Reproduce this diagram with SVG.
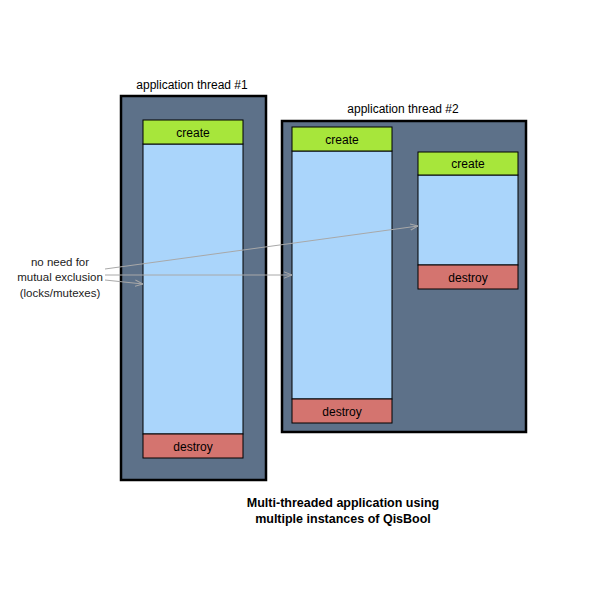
<svg xmlns="http://www.w3.org/2000/svg" width="600" height="600" viewBox="0 0 600 600">
<defs>
<style>
.thread{fill:#5d7189;stroke:#000;stroke-width:2.5}
.body{fill:#aad5fb;stroke:#000;stroke-width:1}
.create{fill:#a7e63b;stroke:#000;stroke-width:1}
.destroy{fill:#d4746f;stroke:#000;stroke-width:1}
text{font-family:"Liberation Sans",Arial,sans-serif;font-size:12px;fill:#000;text-anchor:middle}
.lbl{font-size:12px}
.note{fill:#222;font-size:11.5px}
.title{font-weight:bold;font-size:12.5px}
.conn{stroke:#a8a8a8;stroke-width:1;fill:none;marker-end:url(#ah)}
</style>
<marker id="ah" viewBox="0 0 10 10" refX="10" refY="5" markerWidth="8" markerHeight="8" markerUnits="userSpaceOnUse" orient="auto">
<path d="M0,1 L10,5 L0,9" fill="none" stroke="#a8a8a8" stroke-width="1.2"/>
</marker>
</defs>
<rect width="600" height="600" fill="#fff"/>
<g id="thread1">
<text x="192" y="89">application thread #1</text>
<rect class="thread" x="121" y="96" width="145" height="384"/>
</g>
<g id="thread2">
<text x="403" y="113">application thread #2</text>
<rect class="thread" x="282" y="121" width="244" height="311"/>
</g>
<g id="instance1">
<rect class="body" x="143" y="144" width="100" height="290"/>
<rect class="create" x="143" y="120" width="100" height="24"/>
<text class="lbl" x="193" y="137">create</text>
<rect class="destroy" x="143" y="434" width="100" height="24"/>
<text class="lbl" x="193" y="451">destroy</text>
</g>
<g id="instance2">
<rect class="body" x="292" y="151" width="100" height="248"/>
<rect class="create" x="292" y="127" width="100" height="24"/>
<text class="lbl" x="342" y="144">create</text>
<rect class="destroy" x="292" y="399" width="100" height="24"/>
<text class="lbl" x="342" y="416">destroy</text>
</g>
<g id="instance3">
<rect class="body" x="418" y="175" width="100" height="90"/>
<rect class="create" x="418" y="152" width="100" height="23"/>
<text class="lbl" x="468" y="168">create</text>
<rect class="destroy" x="418" y="265" width="100" height="24"/>
<text class="lbl" x="468" y="282">destroy</text>
</g>
<g id="note">
<text class="note" x="60" y="266">no need for</text>
<text class="note" x="60" y="281">mutual exclusion</text>
<text class="note" x="60" y="297">(locks/mutexes)</text>
</g>
<g id="connectors">
<line class="conn" x1="105" y1="269" x2="418" y2="226"/>
<line class="conn" x1="105" y1="275" x2="292" y2="275"/>
<line class="conn" x1="105" y1="280" x2="143" y2="284"/>
</g>
<g id="caption">
<text class="title" x="343" y="507">Multi-threaded application using</text>
<text class="title" x="343" y="523">multiple instances of QisBool</text>
</g>
</svg>
